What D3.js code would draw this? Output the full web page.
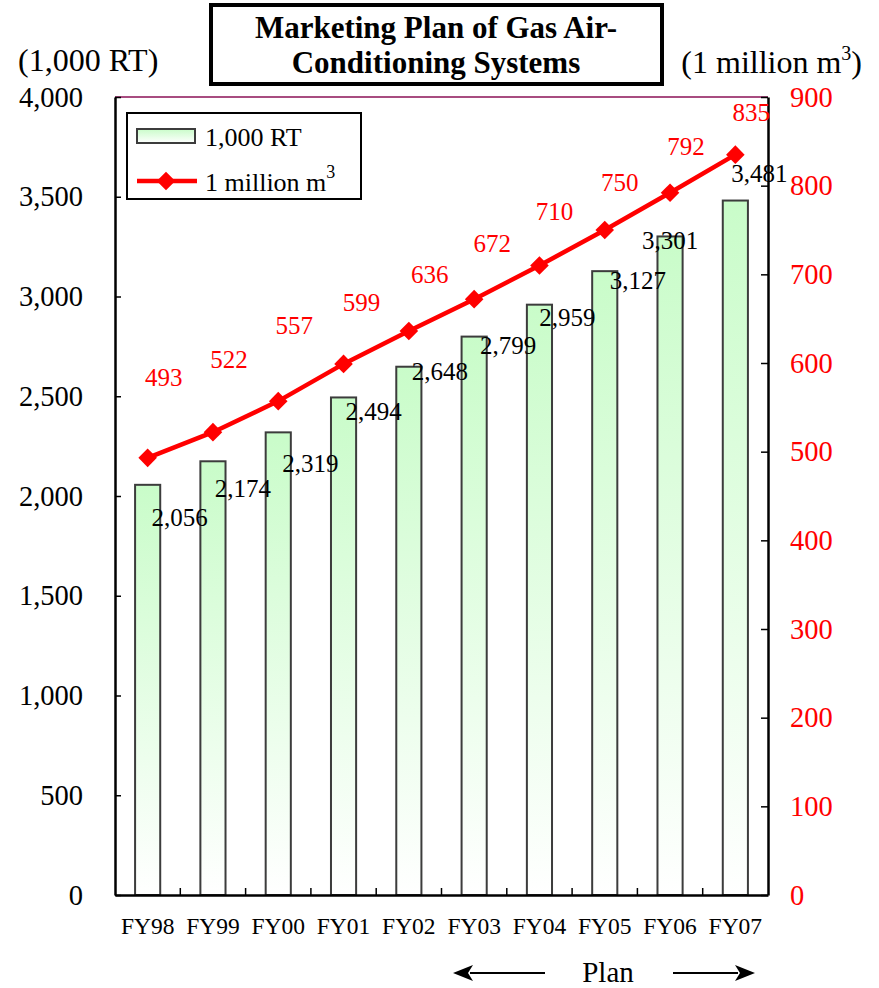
<!DOCTYPE html>
<html>
<head>
<meta charset="utf-8">
<script src="https://cdn.jsdelivr.net/npm/d3@7/dist/d3.min.js"></script>
<style>
  html, body { margin: 0; padding: 0; background: #fff; }
  svg { display: block; font-family: "Liberation Serif", "Times New Roman", serif; }
</style>
</head>
<body>
<svg id="chart" width="879" height="988"></svg>
<script>
// Fiscal years and the two series
const years = ["FY98", "FY99", "FY00", "FY01", "FY02", "FY03", "FY04", "FY05", "FY06", "FY07"];
const capacityRT = [2056, 2174, 2319, 2494, 2648, 2799, 2959, 3127, 3301, 3481];   // 1,000 RT
const gasVolume = [493, 522, 557, 599, 636, 672, 710, 750, 792, 835];            // 1 million m3
const leftTicks = [0, 500, 1000, 1500, 2000, 2500, 3000, 3500, 4000];
const rightTicks = [0, 100, 200, 300, 400, 500, 600, 700, 800, 900];

// Hand-placed label offsets (px) relative to each bar top / line point
const rtLabelShift = [[32, 32], [30, 27], [32, 31], [30, 14], [31, 5], [34, 9], [28, 13], [33, 9], [0, 4], [24, -27]];
const gasLabelShift = [[16, -81], [16, -73], [16, -76], [18, -62], [21, -57], [18, -56], [15, -54], [15, -48], [16, -47], [16, -42]];

const svg = d3.select("#chart");
const plot = { left: 115, right: 768, top: 97, bottom: 895 };

const x = d3.scaleBand().domain(years).range([plot.left, plot.right]).padding(0);
const yL = d3.scaleLinear().domain([0, 4000]).range([plot.bottom, plot.top]);
const yR = d3.scaleLinear().domain([0, 900]).range([plot.bottom, plot.top]);
const fmt = d3.format(",");
const barW = x.bandwidth() * 0.385;

// Bar fill: pale green fading to white
const defs = svg.append("defs");
const grad = defs.append("linearGradient").attr("id", "barFill")
  .attr("x1", 0).attr("y1", 0).attr("x2", 0).attr("y2", 1);
grad.append("stop").attr("offset", "0%").attr("stop-color", "#c9fcc9");
grad.append("stop").attr("offset", "100%").attr("stop-color", "#ffffff");

// Title box
svg.append("rect").attr("x", 211).attr("y", 5).attr("width", 451).attr("height", 79)
  .attr("fill", "#fff").attr("stroke", "#000").attr("stroke-width", 4);
svg.append("text").attr("x", 436).attr("y", 38).attr("text-anchor", "middle")
  .attr("font-size", 31).attr("font-weight", "bold").text("Marketing Plan of Gas Air-");
svg.append("text").attr("x", 436).attr("y", 73).attr("text-anchor", "middle")
  .attr("font-size", 31).attr("font-weight", "bold").text("Conditioning Systems");

// Axis unit captions
svg.append("text").attr("x", 18).attr("y", 71).attr("font-size", 32).text("(1,000 RT)");
const unitR = svg.append("text").attr("x", 862).attr("y", 73).attr("text-anchor", "end").attr("font-size", 32);
unitR.append("tspan").text("(1 million m");
unitR.append("tspan").attr("font-size", 20).attr("dy", -13).text("3");
unitR.append("tspan").attr("dy", 13).text(")");

// Plot frame: purple top edge
svg.append("line").attr("x1", plot.left).attr("x2", plot.right).attr("y1", plot.top).attr("y2", plot.top)
  .attr("stroke", "#a84c80").attr("stroke-width", 2);

// Bars
svg.append("g").selectAll("rect").data(capacityRT).join("rect")
  .attr("x", (d, i) => x(years[i]) + x.bandwidth() / 2 - barW / 2)
  .attr("y", d => yL(d))
  .attr("width", barW)
  .attr("height", d => yL(0) - yL(d))
  .attr("fill", "url(#barFill)")
  .attr("stroke", "#3c3c3c").attr("stroke-width", 2);

// Left axis
const axL = d3.axisLeft(yL).tickValues(leftTicks).tickSizeInner(-6).tickSizeOuter(0).tickPadding(32).tickFormat(fmt);
const gL = svg.append("g").attr("transform", `translate(${plot.left},0)`).call(axL);
gL.select(".domain").attr("stroke", "#000").attr("stroke-width", 2.5);
gL.selectAll(".tick line").attr("stroke", "#000").attr("stroke-width", 1.5);
gL.selectAll(".tick text").attr("font-size", 28.5).attr("font-family", "Liberation Serif").attr("fill", "#000");

// Right axis
const axR = d3.axisRight(yR).tickValues(rightTicks).tickSizeInner(-7).tickSizeOuter(0).tickPadding(22);
const gR = svg.append("g").attr("transform", `translate(${plot.right},0)`).call(axR);
gR.select(".domain").attr("stroke", "#000").attr("stroke-width", 2.5);
gR.selectAll(".tick line").attr("stroke", "#000").attr("stroke-width", 1.5);
gR.selectAll(".tick text").attr("font-size", 28.5).attr("font-family", "Liberation Serif").attr("fill", "#ff0000");

// Bottom axis: baseline, boundary ticks and year labels
const axB = d3.axisBottom(x).tickSize(0).tickPadding(22);
const gB = svg.append("g").attr("transform", `translate(0,${plot.bottom})`).call(axB);
gB.select(".domain").attr("stroke", "#000").attr("stroke-width", 2.5);
gB.selectAll(".tick text").attr("font-size", 23.5).attr("font-family", "Liberation Serif").attr("fill", "#000");
svg.append("g").selectAll("line").data(years.slice(1)).join("line")
  .attr("x1", d => x(d)).attr("x2", d => x(d))
  .attr("y1", plot.bottom).attr("y2", plot.bottom - 7)
  .attr("stroke", "#000").attr("stroke-width", 1.5);

// Gas volume line with diamond markers
const cx = i => x(years[i]) + x.bandwidth() / 2;
const line = d3.line().x((d, i) => cx(i)).y(d => yR(d));
svg.append("path").datum(gasVolume).attr("d", line)
  .attr("fill", "none").attr("stroke", "#ff0000").attr("stroke-width", 4.5);
const diamond = d3.symbol().type(d3.symbolDiamond2).size(220);
svg.append("g").selectAll("path").data(gasVolume).join("path")
  .attr("d", diamond)
  .attr("transform", (d, i) => `translate(${cx(i)},${yR(d)})`)
  .attr("fill", "#ff0000");

// Bar value labels
svg.append("g").selectAll("text").data(capacityRT).join("text")
  .attr("x", (d, i) => cx(i) + rtLabelShift[i][0])
  .attr("y", (d, i) => yL(d) + rtLabelShift[i][1])
  .attr("dy", "0.35em").attr("text-anchor", "middle")
  .attr("font-size", 25).attr("fill", "#000")
  .text(d => fmt(d));

// Line value labels
svg.append("g").selectAll("text").data(gasVolume).join("text")
  .attr("x", (d, i) => cx(i) + gasLabelShift[i][0])
  .attr("y", (d, i) => yR(d) + gasLabelShift[i][1])
  .attr("dy", "0.35em").attr("text-anchor", "middle")
  .attr("font-size", 25).attr("fill", "#ff0000")
  .text(d => d);

// Legend
const lg = svg.append("g");
lg.append("rect").attr("x", 127).attr("y", 113).attr("width", 234).attr("height", 86)
  .attr("fill", "#fff").attr("stroke", "#000").attr("stroke-width", 2);
lg.append("rect").attr("x", 137).attr("y", 129).attr("width", 58).attr("height", 14)
  .attr("fill", "url(#barFill)").attr("stroke", "#3c3c3c").attr("stroke-width", 2);
lg.append("text").attr("x", 205).attr("y", 146).attr("font-size", 26).text("1,000 RT");
lg.append("line").attr("x1", 137).attr("x2", 197).attr("y1", 181).attr("y2", 181)
  .attr("stroke", "#ff0000").attr("stroke-width", 4.5);
lg.append("path").attr("d", diamond).attr("transform", "translate(166,181)").attr("fill", "#ff0000");
const lgt = lg.append("text").attr("x", 205).attr("y", 191).attr("font-size", 26);
lgt.append("tspan").text("1 million m");
lgt.append("tspan").attr("font-size", 18).attr("dy", -13).text("3");

// "Plan" span marker with arrows
const arrowY = 973;
svg.append("text").attr("x", 608).attr("y", 982).attr("text-anchor", "middle").attr("font-size", 29).text("Plan");
svg.append("line").attr("x1", 470).attr("x2", 545).attr("y1", arrowY).attr("y2", arrowY).attr("stroke", "#000").attr("stroke-width", 2);
svg.append("path").attr("d", d3.line()([[453, arrowY], [473, arrowY - 8], [468, arrowY], [473, arrowY + 8]]) + "Z").attr("fill", "#000");
svg.append("line").attr("x1", 673).attr("x2", 738).attr("y1", arrowY).attr("y2", arrowY).attr("stroke", "#000").attr("stroke-width", 2);
svg.append("path").attr("d", d3.line()([[755, arrowY], [735, arrowY - 8], [740, arrowY], [735, arrowY + 8]]) + "Z").attr("fill", "#000");
</script>
</body>
</html>
